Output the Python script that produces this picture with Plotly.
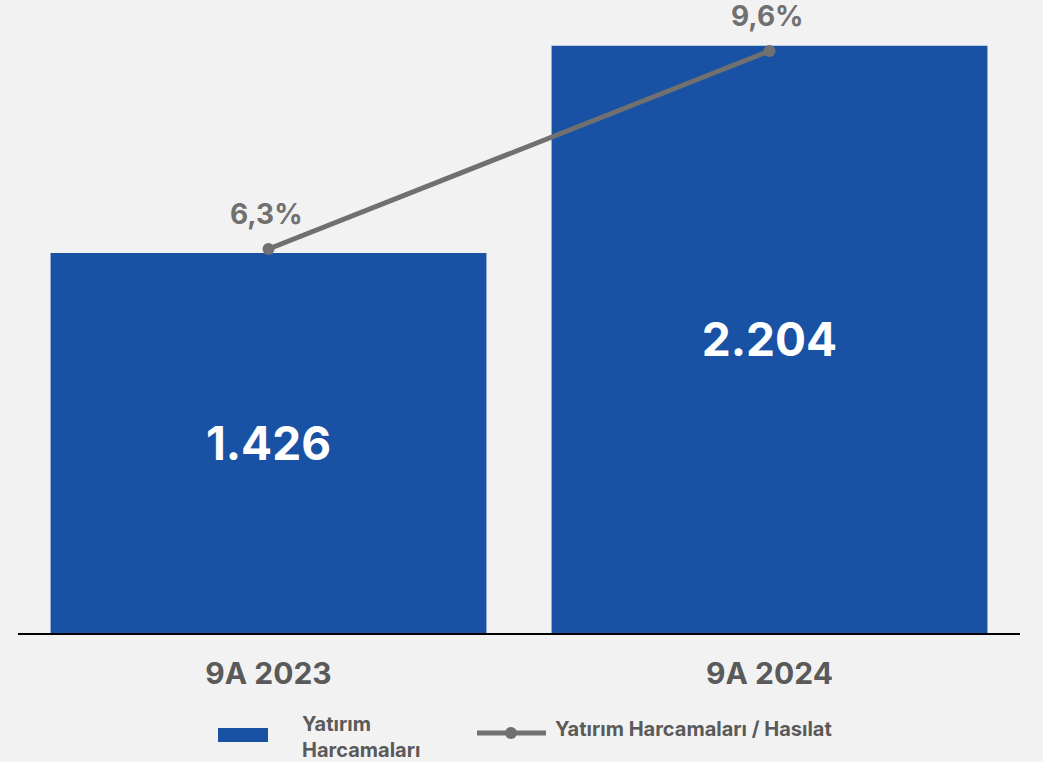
import plotly.graph_objects as go

categories = ["9A 2023", "9A 2024"]
capex = [1426, 2204]
capex_ratio = [6.3, 9.6]
bar_name = "Yatırım<br>Harcamaları"
line_name = "Yatırım Harcamaları / Hasılat"

BLUE = "#1951A4"
GRAY_LINE = "#707070"
GRAY_TEXT = "#5A5A5A"
BG = "#F2F2F2"
FONT = "Inter"

W, H = 1043, 762
L, R, T, B = 18, 23, 30, 129
pw, ph = W - L - R, H - T - B

def px_x(px):
    return (px - L) / pw

def px_y(py):
    return (H - B - py) / ph

fig = go.Figure()
fig.add_trace(go.Bar(
    x=categories, y=capex, name=bar_name,
    marker=dict(color=BLUE, line=dict(width=0)),
    width=0.87,
    texttemplate="%{y:,.0f}", textposition="inside", insidetextanchor="middle",
    textfont=dict(family=FONT, size=46, color="white", weight="bold"),
    showlegend=False, yaxis="y",
))
fig.add_trace(go.Scatter(
    x=categories, y=capex_ratio, name=line_name, mode="lines+markers",
    line=dict(color=GRAY_LINE, width=5),
    marker=dict(color=GRAY_LINE, size=12),
    showlegend=False, yaxis="y2",
))
for c, v in zip(categories, capex_ratio):
    fig.add_annotation(
        x=c, y=v, yref="y2", text=f"{v:.1f}%".replace(".", ","),
        showarrow=False, yshift=35, xshift=-2,
        font=dict(family=FONT, size=28, color=GRAY_LINE, weight="bold"),
    )

# legend (manual)
fig.add_shape(type="rect", xref="paper", yref="paper",
              x0=px_x(218), x1=px_x(268), y0=px_y(742), y1=px_y(728),
              fillcolor=BLUE, line=dict(width=0))
fig.add_annotation(xref="paper", yref="paper", x=px_x(300), y=px_y(737),
                   xanchor="left", yanchor="middle", align="left",
                   text=bar_name, showarrow=False,
                   font=dict(family=FONT, size=20, color=GRAY_TEXT, weight="bold"))
fig.add_shape(type="line", xref="paper", yref="paper",
              x0=px_x(477), x1=px_x(546), y0=px_y(733), y1=px_y(733),
              line=dict(color=GRAY_LINE, width=5))
fig.add_shape(type="circle", xref="paper", yref="paper",
              x0=px_x(505), x1=px_x(517), y0=px_y(739), y1=px_y(727),
              fillcolor=GRAY_LINE, line=dict(width=0))
fig.add_annotation(xref="paper", yref="paper", x=px_x(553), y=px_y(729),
                   xanchor="left", yanchor="middle", align="left",
                   text=line_name, showarrow=False,
                   font=dict(family=FONT, size=20, color=GRAY_TEXT, weight="bold"))

fig.update_layout(
    width=W, height=H,
    margin=dict(l=L, r=R, t=T, b=B, autoexpand=False),
    paper_bgcolor=BG, plot_bgcolor=BG,
    separators=",.",
    xaxis=dict(range=[-0.5, 1.5], showline=True, linecolor="black", linewidth=2,
               ticks="", showgrid=False, zeroline=False,
               tickfont=dict(family=FONT, size=30, color=GRAY_TEXT, weight="bold"),
               ticklabelstandoff=13),
    yaxis=dict(range=[0, 603 / (380 / 1426)], visible=False, showgrid=False, zeroline=False),
    yaxis2=dict(range=[-0.1, -0.1 + 603 / 60], overlaying="y", visible=False,
                showgrid=False, zeroline=False),
    showlegend=False,
)

fig.write_html("out.html", config={"displayModeBar": False},
               post_script="document.body.style.margin='0';document.body.style.padding='0';document.body.style.background='#F2F2F2';")
